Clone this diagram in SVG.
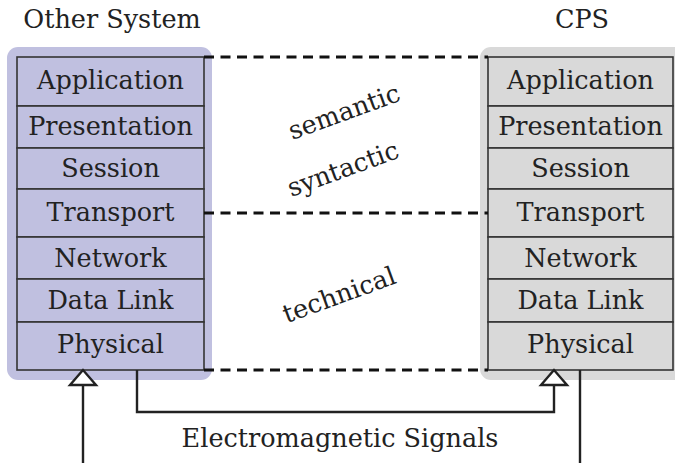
<svg xmlns="http://www.w3.org/2000/svg" width="675" height="463" viewBox="0 0 675 463">
<defs>
<style>
.t{font-family:"DejaVu Serif","Liberation Serif",serif;font-size:25.5px;fill:#222;text-anchor:middle}
.row{stroke:#333;stroke-width:1.6}
.dash{stroke:#111;stroke-width:3;stroke-dasharray:10,6.5;fill:none}
.wire{stroke:#222;stroke-width:2.4;fill:none}
.head{fill:#fff;stroke:#222;stroke-width:2.4;stroke-linejoin:miter}
</style>
</defs>
<rect width="675" height="463" fill="#fff"/>
<text class="t" x="112" y="28">Other System</text>
<text class="t" x="582" y="28">CPS</text>
<g id="other-system">
<rect x="7" y="47" width="205" height="333" rx="11" fill="#c0c0e0"/>
<g class="row" fill="#c0c0e0">
<rect x="17" y="57" width="187" height="49"/>
<rect x="17" y="106" width="187" height="42"/>
<rect x="17" y="148" width="187" height="41"/>
<rect x="17" y="189" width="187" height="48"/>
<rect x="17" y="237" width="187" height="42"/>
<rect x="17" y="279" width="187" height="43"/>
<rect x="17" y="322" width="187" height="48"/>
</g>
<text class="t" x="110.5" y="89">Application</text>
<text class="t" x="110.5" y="135">Presentation</text>
<text class="t" x="110.5" y="177">Session</text>
<text class="t" x="110.5" y="221">Transport</text>
<text class="t" x="110.5" y="267">Network</text>
<text class="t" x="110.5" y="309">Data Link</text>
<text class="t" x="110.5" y="353">Physical</text>
</g>
<g id="cps">
<rect x="480" y="47" width="205" height="333" rx="11" fill="#d9d9d9"/>
<g class="row" fill="#d9d9d9">
<rect x="488" y="57" width="185" height="49"/>
<rect x="488" y="106" width="185" height="42"/>
<rect x="488" y="148" width="185" height="41"/>
<rect x="488" y="189" width="185" height="48"/>
<rect x="488" y="237" width="185" height="42"/>
<rect x="488" y="279" width="185" height="43"/>
<rect x="488" y="322" width="185" height="48"/>
</g>
<text class="t" x="580.5" y="89">Application</text>
<text class="t" x="580.5" y="135">Presentation</text>
<text class="t" x="580.5" y="177">Session</text>
<text class="t" x="580.5" y="221">Transport</text>
<text class="t" x="580.5" y="267">Network</text>
<text class="t" x="580.5" y="309">Data Link</text>
<text class="t" x="580.5" y="353">Physical</text>
</g>
<g id="connectors">
<line class="dash" x1="204" y1="57" x2="488" y2="57"/>
<line class="dash" x1="204" y1="213" x2="488" y2="213"/>
<line class="dash" x1="204" y1="370" x2="488" y2="370"/>
<text class="t" transform="translate(347,120) rotate(-20)">semantic</text>
<text class="t" transform="translate(346,177) rotate(-20)">syntactic</text>
<text class="t" transform="translate(342,303) rotate(-20)">technical</text>
<path class="wire" d="M137,370 V412 H554 V385"/>
<polygon class="head" points="554,370 541,385 567,385"/>
<path class="wire" d="M580,370 V475 H83 V385"/>
<polygon class="head" points="83,370 70,385 96,385"/>
<text class="t" x="340" y="447">Electromagnetic Signals</text>
</g>
</svg>
